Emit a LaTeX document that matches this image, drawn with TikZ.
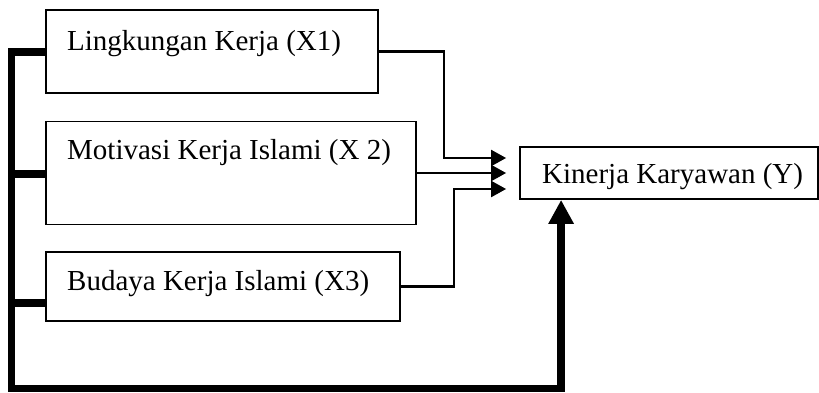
\documentclass[tikz,border=0pt]{standalone}
\usepackage{fontspec}
\setmainfont{Liberation Serif}
\usetikzlibrary{arrows.meta,calc}
\begin{document}
\begin{tikzpicture}[x=1pt,y=-1pt,
  box/.style={draw,line width=1.8pt,inner sep=0pt},
  lbl/.style={anchor=base west,inner sep=0pt,font=\fontsize{29}{32}\selectfont},
  thinarrow/.style={line width=2.2pt,-{Triangle[length=15pt,width=16pt]}},
  thickline/.style={line width=7.5pt,line join=miter},
  thickarrow/.style={line width=7.5pt,-{Triangle[length=24pt,width=24pt]}}]
\useasboundingbox (0,0) rectangle (819,392);
% boxes
\node[box,minimum width=332pt,minimum height=83pt] (x1) at (212,51.5) {};
\node[box,minimum width=370pt,minimum height=103pt] (x2) at (231,173) {};
\node[box,minimum width=354pt,minimum height=69pt] (x3) at (223,286.5) {};
\node[box,minimum width=298pt,minimum height=52pt] (y) at (669,173) {};
% texts
\node[lbl] (t1) at (67,50) {Lingkungan Kerja (X1)};
\node[lbl] (t2) at (67,159) {Motivasi Kerja Islami (X 2)};
\node[lbl] (t3) at (67,290) {Budaya Kerja Islami (X3)};
\node[lbl] (ty) at (542,183) {Kinerja Karyawan (Y)};
% thin connectors
\draw[thinarrow] (x1.east) -- ++(65,0) |- ([xshift=-13pt,yshift=15pt]y.west);
\draw[thinarrow] (x2.east) -- ([xshift=-13pt]y.west);
\draw[thinarrow] (x3.east) -- ++(53,0) |- ([xshift=-13pt,yshift=-16pt]y.west);
% thick frame
\coordinate (s1) at (11.5,52);
\coordinate (s2) at (11.5,174);
\coordinate (s3) at (11.5,303);
\coordinate (sb) at (11.5,388.5);
\coordinate (yin) at ($(y.south west)+(42,0)$);
\draw[thickline] (x1.west |- s1) -- (s1) -- (sb) -| ([yshift=-20pt]yin);
\draw[thickarrow] ([yshift=-24pt]yin) -- (yin);
\draw[thickline] (s2) -- (x2.west |- s2);
\draw[thickline] (s3) -- (x3.west |- s3);
\end{tikzpicture}
\end{document}
